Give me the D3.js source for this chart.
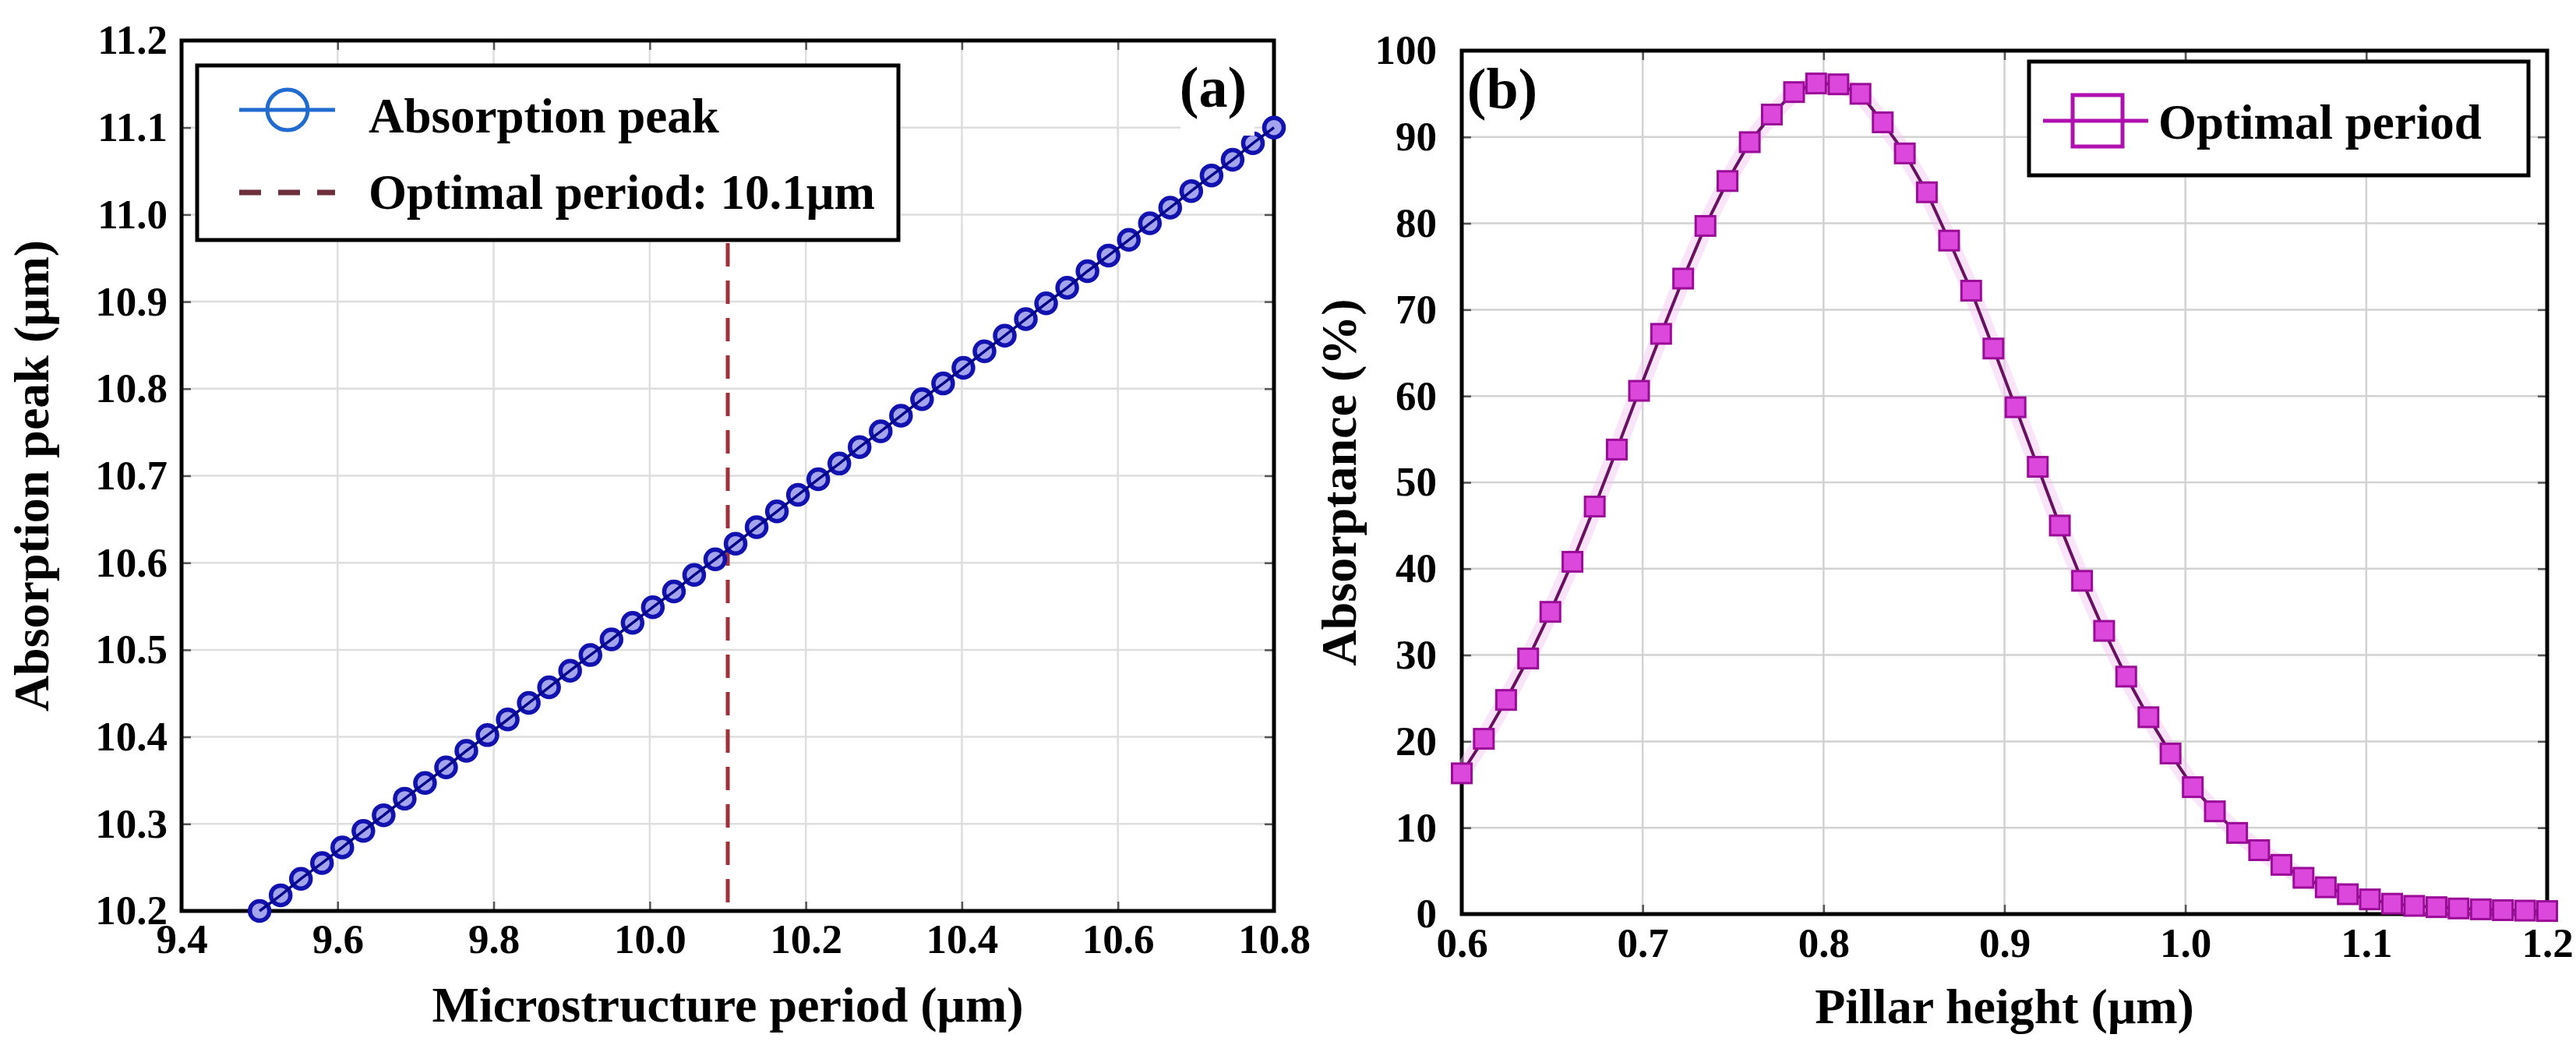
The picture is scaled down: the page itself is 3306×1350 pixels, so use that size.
<!DOCTYPE html>
<html>
<head>
<meta charset="utf-8">
<script src="https://cdn.jsdelivr.net/npm/d3@7.9.0/dist/d3.min.js"></script>
<style>
  body { margin: 0; background: #fff; }
  text { font-family: "Liberation Serif", "Times New Roman", serif; font-weight: bold; fill: #000; }
</style>
</head>
<body>
<svg id="fig" width="3306" height="1350"></svg>
<script>
// (a) absorption peak vs microstructure period
const periods = [
  9.500, 9.527, 9.553, 9.580, 9.606, 9.633, 9.659, 9.686, 9.712, 9.739,
  9.765, 9.792, 9.818, 9.845, 9.871, 9.898, 9.924, 9.951, 9.978, 10.004,
  10.031, 10.057, 10.084, 10.110, 10.137, 10.163, 10.190, 10.216, 10.243, 10.269,
  10.296, 10.322, 10.349, 10.376, 10.402, 10.429, 10.455, 10.482, 10.508, 10.535,
  10.561, 10.588, 10.614, 10.641, 10.667, 10.694, 10.720, 10.747, 10.773, 10.800
];
const peaks = [
  10.200, 10.218, 10.237, 10.255, 10.273, 10.292, 10.310, 10.329, 10.347, 10.365,
  10.384, 10.402, 10.420, 10.439, 10.457, 10.476, 10.494, 10.512, 10.531, 10.549,
  10.567, 10.586, 10.604, 10.622, 10.641, 10.659, 10.678, 10.696, 10.714, 10.733,
  10.751, 10.769, 10.788, 10.806, 10.824, 10.843, 10.861, 10.880, 10.898, 10.916,
  10.935, 10.953, 10.971, 10.990, 11.008, 11.027, 11.045, 11.063, 11.082, 11.100
];
const optimalPeriod = 10.1;
const periodTicks = [9.4, 9.6, 9.8, 10.0, 10.2, 10.4, 10.6, 10.8];
const peakTicks = [10.2, 10.3, 10.4, 10.5, 10.6, 10.7, 10.8, 10.9, 11.0, 11.1, 11.2];

// (b) absorptance vs pillar height
const heights = [
  0.6000, 0.6122, 0.6245, 0.6367, 0.6490, 0.6612, 0.6735, 0.6857, 0.6980, 0.7102,
  0.7224, 0.7347, 0.7469, 0.7592, 0.7714, 0.7837, 0.7959, 0.8082, 0.8204, 0.8327,
  0.8449, 0.8571, 0.8694, 0.8816, 0.8939, 0.9061, 0.9184, 0.9306, 0.9429, 0.9551,
  0.9673, 0.9796, 0.9918, 1.0041, 1.0163, 1.0286, 1.0408, 1.0531, 1.0653, 1.0776,
  1.0898, 1.1020, 1.1143, 1.1265, 1.1388, 1.1510, 1.1633, 1.1755, 1.1878, 1.2000
];
const absorptance = [
  16.3, 20.3, 24.8, 29.6, 35.0, 40.8, 47.2, 53.8, 60.6, 67.2,
  73.6, 79.7, 84.9, 89.4, 92.6, 95.2, 96.2, 96.1, 95.0, 91.7,
  88.1, 83.6, 78.0, 72.2, 65.5, 58.7, 51.8, 45.0, 38.6, 32.8,
  27.5, 22.8, 18.6, 14.7, 11.9, 9.4, 7.4, 5.7, 4.2, 3.1,
  2.3, 1.7, 1.2, 0.95, 0.8, 0.65, 0.55, 0.45, 0.4, 0.35
];
const heightTicks = [0.6, 0.7, 0.8, 0.9, 1.0, 1.1, 1.2];
const absTicks = [0, 10, 20, 30, 40, 50, 60, 70, 80, 90, 100];

const svg = d3.select('#fig');

const xa = d3.scaleLinear().domain([9.4, 10.8]).range([233, 1635]);
const ya = d3.scaleLinear().domain([10.2, 11.2]).range([1169, 52]);
const xb = d3.scaleLinear().domain([0.6, 1.2]).range([1876, 3269]);
const yb = d3.scaleLinear().domain([0, 100]).range([1173, 65]);

function styleAxis(g, size) {
  g.attr('font-family', null).attr('font-size', size);
  g.select('.domain').remove();
  g.selectAll('.tick line').attr('stroke', '#555').attr('stroke-width', 2.5);
}

// grid, inward ticks on all four sides, labels, frame
function drawFrame(x, y, xTicks, yTicks, o) {
  const g = svg.append('g');
  const [x0, x1] = x.range();
  const [y0, y1] = y.range();

  g.append('g').selectAll('line').data(xTicks.slice(1, -1)).join('line')
    .attr('x1', d => x(d)).attr('x2', d => x(d))
    .attr('y1', y1).attr('y2', y0)
    .attr('stroke', o.grid).attr('stroke-width', 2.5);
  g.append('g').selectAll('line').data(yTicks.slice(1, -1)).join('line')
    .attr('x1', x0).attr('x2', x1)
    .attr('y1', d => y(d)).attr('y2', d => y(d))
    .attr('stroke', o.grid).attr('stroke-width', 2.5);

  g.append('g').attr('transform', `translate(0,${y0})`)
    .call(d3.axisBottom(x).tickValues(xTicks).tickFormat(o.xFmt)
      .tickSizeInner(-12).tickSizeOuter(0).tickPadding(o.xPad))
    .call(s => styleAxis(s, 53));
  g.append('g').attr('transform', `translate(${x0},0)`)
    .call(d3.axisLeft(y).tickValues(yTicks).tickFormat(o.yFmt)
      .tickSizeInner(-12).tickSizeOuter(0).tickPadding(o.yPad))
    .call(s => styleAxis(s, 53));
  g.append('g').attr('transform', `translate(0,${y1})`)
    .call(d3.axisTop(x).tickValues(xTicks).tickFormat('')
      .tickSizeInner(-12).tickSizeOuter(0))
    .call(s => styleAxis(s, 53));
  g.append('g').attr('transform', `translate(${x1},0)`)
    .call(d3.axisRight(y).tickValues(yTicks).tickFormat('')
      .tickSizeInner(-12).tickSizeOuter(0))
    .call(s => styleAxis(s, 53));

  g.append('rect')
    .attr('x', x0).attr('y', y1)
    .attr('width', x1 - x0).attr('height', y0 - y1)
    .attr('fill', 'none').attr('stroke', '#000').attr('stroke-width', 5);

  g.append('text')
    .attr('x', (x0 + x1) / 2).attr('y', o.xTitleY)
    .attr('text-anchor', 'middle').attr('font-size', 64)
    .text(o.xTitle);
  g.append('text')
    .attr('transform', `translate(${o.yTitleX},${(y0 + y1) / 2}) rotate(-90)`)
    .attr('text-anchor', 'middle').attr('font-size', 64)
    .text(o.yTitle);
}

// ---------- panel (a) ----------
drawFrame(xa, ya, periodTicks, peakTicks, {
  grid: '#dedede', xFmt: d3.format('.1f'), yFmt: d3.format('.1f'),
  xPad: 16, yPad: 18, xTitleY: 1311, yTitleX: 62,
  xTitle: 'Microstructure period (μm)', yTitle: 'Absorption peak (μm)'
});

// dashed marker starts under the legend box
svg.append('line')
  .attr('x1', xa(optimalPeriod)).attr('x2', xa(optimalPeriod))
  .attr('y1', 312).attr('y2', ya.range()[0])
  .attr('stroke', '#a0303a').attr('stroke-width', 5)
  .attr('stroke-dasharray', '30,18');

const ptsA = periods.map((p, i) => [p, peaks[i]]);
svg.append('g').selectAll('circle').data(ptsA).join('circle')
  .attr('cx', d => xa(d[0])).attr('cy', d => ya(d[1])).attr('r', 12.5)
  .attr('fill', '#a4a4ec').attr('stroke', '#1212b0').attr('stroke-width', 5.5);
svg.append('path').datum(ptsA)
  .attr('d', d3.line().x(d => xa(d[0])).y(d => ya(d[1])))
  .attr('fill', 'none').attr('stroke', '#05058a').attr('stroke-width', 3.5);

// legend (a)
const legA = svg.append('g');
legA.append('rect').attr('x', 253).attr('y', 84).attr('width', 900).attr('height', 224)
  .attr('fill', '#fff').attr('stroke', '#000').attr('stroke-width', 5);
legA.append('line').attr('x1', 307).attr('x2', 430).attr('y1', 141).attr('y2', 141)
  .attr('stroke', '#1f6bd0').attr('stroke-width', 5);
legA.append('circle').attr('cx', 369).attr('cy', 141).attr('r', 26)
  .attr('fill', 'none').attr('stroke', '#1f6bd0').attr('stroke-width', 5);
legA.append('text').attr('x', 473).attr('y', 170).attr('font-size', 63).text('Absorption peak');
legA.append('line').attr('x1', 307).attr('x2', 430).attr('y1', 247).attr('y2', 247)
  .attr('stroke', '#6e2f3c').attr('stroke-width', 7).attr('stroke-dasharray', '28,22');
legA.append('text').attr('x', 473).attr('y', 268).attr('font-size', 63)
  .text(`Optimal period: ${optimalPeriod}μm`);

svg.append('rect').attr('x', 1515).attr('y', 76).attr('width', 95).attr('height', 98).attr('fill', '#fff');
svg.append('text').attr('x', 1557).attr('y', 137).attr('text-anchor', 'middle')
  .attr('font-size', 74).text('(a)');

// ---------- panel (b) ----------
drawFrame(xb, yb, heightTicks, absTicks, {
  grid: '#d2d2d2', xFmt: d3.format('.1f'), yFmt: d3.format('d'),
  xPad: 17, yPad: 32, xTitleY: 1313, yTitleX: 1740,
  xTitle: 'Pillar height (μm)', yTitle: 'Absorptance (%)'
});

const ptsB = heights.map((h, i) => [h, absorptance[i]]);
const lineB = d3.line().x(d => xb(d[0])).y(d => yb(d[1]));
svg.append('path').datum(ptsB).attr('d', lineB)
  .attr('fill', 'none').attr('stroke', '#f4c4f2').attr('stroke-width', 22)
  .attr('stroke-linejoin', 'round').attr('opacity', 0.45);
svg.append('path').datum(ptsB).attr('d', lineB)
  .attr('fill', 'none').attr('stroke', '#6a1062').attr('stroke-width', 4);
svg.append('g').selectAll('rect').data(ptsB).join('rect')
  .attr('x', d => xb(d[0]) - 12.5).attr('y', d => yb(d[1]) - 12.5)
  .attr('width', 25).attr('height', 25)
  .attr('fill', '#dc48dc').attr('stroke', '#9a0c98').attr('stroke-width', 3);

// legend (b)
const legB = svg.append('g');
legB.append('rect').attr('x', 2604).attr('y', 79).attr('width', 641).attr('height', 146)
  .attr('fill', '#fff').attr('stroke', '#000').attr('stroke-width', 5);
legB.append('line').attr('x1', 2622).attr('x2', 2757).attr('y1', 155).attr('y2', 155)
  .attr('stroke', '#b010b0').attr('stroke-width', 5);
legB.append('rect').attr('x', 2660).attr('y', 122).attr('width', 64).attr('height', 66)
  .attr('fill', 'none').attr('stroke', '#b010b0').attr('stroke-width', 5);
legB.append('text').attr('x', 2770).attr('y', 178).attr('font-size', 63).text('Optimal period');

svg.append('text').attr('x', 1928).attr('y', 139).attr('text-anchor', 'middle')
  .attr('font-size', 74).text('(b)');
</script>
</body>
</html>
